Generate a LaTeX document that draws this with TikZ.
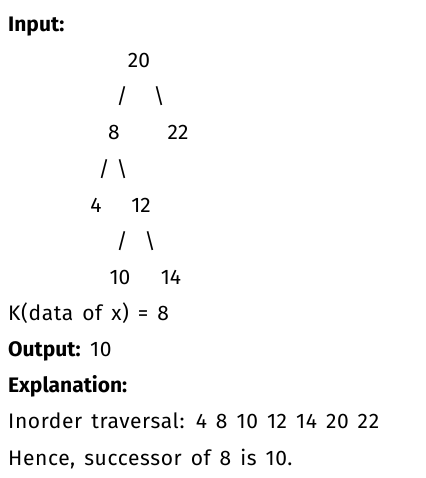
\documentclass[tikz,border=0pt]{standalone}
\usepackage{fontspec}
\setmainfont{Fira Sans}
\usetikzlibrary{positioning}
\newcommand{\widetxt}{\fontsize{21}{25}\selectfont\addfontfeatures{LetterSpace=3}\spaceskip 9pt\relax}

\begin{document}
\begin{tikzpicture}[x=1pt, y=-1pt]
  \tikzset{txt/.style={inner sep=0pt, anchor=base west, font=\widetxt},
           key/.style={txt, font=\fontsize{21}{25}\selectfont\bfseries},
           val/.style={inner sep=0pt, anchor=base, font=\fontsize{21}{25}\selectfont}}
  \useasboundingbox (0,0) rectangle (425,478);

  \node[key] (input) at (8,32) {Input:};

  % the tree, typed as text
  \node[val] (n20) at (139,68)  {20};
  \node[val] (s1l) at (122,104) {/};
  \node[val] (s1r) at (159,104) {\textbackslash};
  \node[val] (n8)  at (114,140) {8};
  \node[val] (n22) at (178,140) {22};
  \node[val] (s2l) at (104,176) {/};
  \node[val] (s2r) at (122,176) {\textbackslash};
  \node[val] (n4)  at (96,212)  {4};
  \node[val] (n12) at (141,212) {12};
  \node[val] (s3l) at (122,248) {/};
  \node[val] (s3r) at (150,248) {\textbackslash};
  \node[val] (n10) at (120,284) {10};
  \node[val] (n14) at (171,284) {14};

  % the rest of the example
  \node[txt] (kval) at (8,320) {K(data of x) = 8};
  \node[key] (output) at (8,356) {Output:};
  \node[txt] (outval) at (90,356) {10};
  \node[key] (expl) at (8,392) {Explanation:};
  \node[txt] (inord) at (8,428) {Inorder traversal: 4 8 10 12 14 20 22};
  \node[txt] (hence) at (8,465) {Hence, successor of 8 is 10.};
\end{tikzpicture}
\end{document}
